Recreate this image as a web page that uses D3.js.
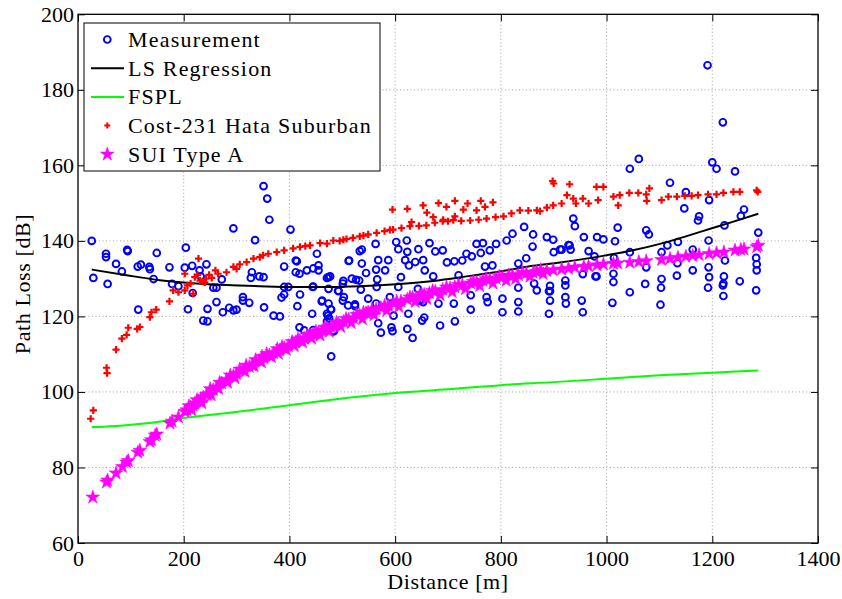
<!DOCTYPE html>
<html>
<head>
<meta charset="utf-8">
<script src="https://cdn.jsdelivr.net/npm/d3@7"></script>
<style>
  body { margin: 0; background: #fff; }
  svg text { font-family: 'Liberation Serif', 'DejaVu Serif', serif; }
</style>
</head>
<body>
<div id="chart"></div>
<script>
// measured path loss [distance m, dB]
var measurement = [
  [26,140.0],[29,130.2],[53,136.6],[53,135.7],[56,128.6],[72,133.9],[83,131.9],[93,137.6],[94,137.3],[113,133.2],
  [119,133.7],[114,121.8],[135,133.1],[136,132.5],[143,129.9],[149,136.8],[173,133.0],[178,128.6],[190,128.0],[204,138.2],
  [208,121.9],[202,132.9],[216,133.4],[217,126.2],[230,132.2],[243,133.8],[232,130.6],[237,118.9],[245,118.7],[245,122.0],
  [256,127.6],[262,127.6],[272,129.8],[262,123.8],[274,121.1],[286,122.3],[294,121.6],[300,121.8],[312,125.1],[312,124.2],
  [324,123.6],[329,131.7],[327,130.2],[335,140.2],[294,143.3],[351,154.5],[358,151.2],[362,145.6],[343,130.6],[351,130.4],
  [352,122.4],[370,120.2],[382,120.0],[390,133.2],[390,127.8],[385,125.0],[398,127.8],[390,125.8],[402,143.0],[414,134.6],
  [412,131.7],[419,131.3],[415,122.7],[420,125.8],[419,117.1],[428,116.3],[433,132.2],[443,120.7],[445,127.9],[452,136.6],
  [455,133.5],[445,116.4],[461,124.0],[471,120.7],[475,119.5],[478,121.9],[474,130.4],[484,116.1],[479,109.4],[492,126.8],
  [501,128.7],[503,125.1],[512,134.7],[524,123.2],[526,129.7],[533,137.3],[445,132.7],[455,132.2],[444,127.8],[462,124.2],
  [471,130.2],[477,130.6],[474,127.3],[474,123.4],[479,121.8],[473,120.2],[471,118.7],[483,116.1],[493,126.7],[502,129.4],
  [501,124.2],[511,122.9],[513,134.8],[518,130.0],[524,122.7],[532,129.5],[537,137.7],[537,134.0],[535,127.1],[545,131.5],
  [549,124.7],[563,139.2],[564,132.4],[566,129.8],[565,127.8],[564,123.4],[568,118.2],[573,115.7],[568,134.9],[581,132.2],
  [587,134.9],[590,125.1],[593,117.1],[595,116.1],[597,120.2],[602,139.7],[606,137.8],[606,127.8],[611,130.4],[622,140.1],
  [623,137.1],[623,116.7],[625,120.7],[619,134.9],[626,133.5],[633,114.3],[638,134.4],[644,137.8],[643,127.3],[646,124.2],
  [653,123.8],[655,119.7],[651,118.9],[653,134.9],[656,132.2],[665,139.4],[672,130.6],[676,137.2],[682,123.4],[685,117.6],
  [690,137.5],[698,134.3],[711,123.4],[712,134.6],[713,118.7],[720,130.9],[727,134.8],[735,136.6],[743,121.8],[743,125.6],
  [745,135.9],[754,139.2],[766,139.4],[762,136.8],[770,133.2],[773,125.1],[775,123.8],[779,137.5],[784,133.5],[791,139.2],
  [803,124.7],[803,121.1],[811,140.1],[822,141.9],[833,134.0],[833,127.6],[833,123.8],[833,121.3],[844,143.7],[848,135.4],
  [861,141.7],[860,138.5],[863,128.7],[868,126.9],[887,141.0],[891,126.7],[893,124.2],[891,120.7],[899,140.3],[900,137.0],
  [915,137.7],[922,125.1],[923,123.4],[928,138.9],[932,137.7],[937,145.9],[940,143.9],[953,124.2],[955,121.1],[957,141.0],
  [966,137.3],[982,141.0],[981,130.6],[994,140.4],[1016,139.9],[1021,143.5],[1044,159.1],[1061,161.7],[1075,142.8],[1080,141.7],
  [1044,137.0],[1044,126.4],[1073,128.6],[1075,133.0],[1011,123.6],[1013,131.3],[1013,129.1],[1014,135.5],[979,130.6],[977,135.9],
  [955,131.2],[922,129.5],[922,128.2],[930,138.8],[912,137.7],[1102,123.1],[1103,127.6],[1104,129.9],[1104,137.0],[1115,138.8],
  [1120,155.4],[1133,130.8],[1134,134.1],[1135,139.7],[1150,152.9],[1147,148.6],[1163,132.2],[1163,137.7],[1175,146.5],[1173,145.4],
  [1193,140.1],[1193,133.0],[1194,130.4],[1192,127.6],[1194,150.8],[1200,160.8],[1208,159.1],[1220,171.4],[1223,144.1],[1224,134.8],
  [1222,130.6],[1221,128.7],[1221,125.4],[1243,158.4],[1252,129.3],[1260,148.3],[1254,146.6],[1283,126.9],[1284,132.2],[1284,133.8],
  [1283,135.5],[1287,142.2],[1191,186.5],[1220,128.2],[893,128.1],[893,126.7],[412,134.8]
];

// least squares fit
var lsRegression = [
  [26,132.4],[92,130.9],[155,129.6],[218,128.8],[281,128.3],[344,128.0],[407,127.8],[471,127.8],[533,128.0],[609,128.6],
  [672,129.4],[735,130.6],[798,131.9],[861,133.4],[912,134.3],[988,135.9],[1050,137.5],[1101,139.2],[1150,141.2],[1196,143.2],
  [1240,145.1],[1287,147.2]
];

var fspl = [
  [26,90.7],[50,90.8],[100,91.3],[168,92.4],[200,93.1],[294,94.6],[400,96.5],[515,98.5],[600,99.7],[700,100.7],
  [800,101.8],[900,102.6],[1000,103.5],[1100,104.4],[1200,105.1],[1287,105.7]
];

var cost231 = [
  [24,92.9],[29,95.1],[54,106.4],[55,105.0],[72,111.2],[83,114.1],[92,115.1],[95,117.0],[112,116.7],[117,117.2],
  [136,119.8],[139,121.1],[148,121.8],[173,124.0],[180,126.9],[190,126.4],[202,126.9],[207,128.2],[202,131.3],[213,128.7],
  [218,126.0],[221,130.4],[228,135.3],[231,129.5],[236,129.2],[242,130.0],[248,131.0],[253,130.2],[265,131.3],[281,131.7],
  [294,133.1],[306,133.8],[319,134.4],[332,135.3],[344,135.7],[360,136.6],[376,137.0],[390,137.5],[407,138.0],[420,138.4],
  [439,138.8],[458,139.4],[471,139.3],[483,140.1],[502,140.3],[508,140.5],[520,140.8],[533,141.2],[549,141.7],[565,142.1],
  [580,142.6],[596,143.0],[612,143.4],[628,143.9],[645,144.0],[659,144.1],[675,144.8],[691,145.6],[710,145.5],[725,145.3],
  [742,145.4],[758,145.6],[773,145.9],[790,146.3],[805,146.5],[820,147.3],[836,148.1],[852,148.0],[868,148.1],[874,147.9],
  [887,148.8],[899,149.4],[915,149.9],[942,149.9],[966,149.9],[984,150.8],[1013,151.7],[1043,152.7],[1060,152.7],[1075,152.3],
  [1104,150.8],[1117,151.7],[1133,151.7],[1148,151.9],[1161,151.9],[1173,152.1],[1192,152.3],[1208,152.3],[1221,152.7],[1240,153.0],
  [1252,153.0],[1284,153.4],[1286,153.0],
  [595,148.3],[623,148.5],[653,149.4],[660,147.5],[682,150.0],[697,149.0],[713,150.6],[729,148.3],[737,149.9],[754,148.1],
  [762,150.6],[770,149.0],[785,150.2],[631,145.0],[672,146.3],[690,145.2],[713,146.5],[898,155.8],[900,155.2],[925,152.1],
  [930,155.0],[937,151.2],[955,151.2],[981,154.3],[994,154.3],[1022,149.4],[1025,152.1],[1076,150.6],[1081,153.9],
  [226,131.0],[240,129.0],[260,132.2],[300,132.6],[350,136.2],[430,138.6],[495,140.0],[540,141.4],[590,142.9],[700,145.2]
];

var suiTypeA = [
  [28,72.1],[54,76.1],[56,76.6],[72,78.5],[84,80.2],[92,81.4],[95,81.8],[113,84.0],[117,84.5],[136,86.8],
  [139,87.3],[146,88.5],[149,88.8],[174,91.7],[178,92.2],[190,93.3],[202,94.8],[206,95.2],[213,96.0],[218,96.4],
  [221,96.9],[228,97.6],[232,98.0],[237,98.6],[243,99.3],[245,99.4],[256,100.6],[262,101.2],[272,102.3],[281,103.3],
  [294,104.3],[300,104.8],[312,105.8],[324,106.7],[329,107.1],[343,108.3],[352,109.0],[362,109.7],[370,110.3],[382,111.1],
  [390,111.7],[398,112.2],[412,113.2],[420,113.7],[428,114.2],[439,114.9],[445,115.2],[455,115.8],[462,116.2],[471,116.8],
  [478,117.2],[484,117.5],[493,118.1],[502,118.6],[512,119.2],[521,119.6],[533,120.3],[545,120.9],[549,121.1],[564,121.9],
  [573,122.3],[587,122.9],[597,123.4],[611,124.0],[623,124.5],[633,125.0],[646,125.5],[655,125.8],[665,126.2],[676,126.6],
  [690,127.1],[704,127.5],[713,127.8],[727,128.3],[743,128.8],[754,129.1],[766,129.5],[779,129.8],[791,130.1],[803,130.4],
  [822,130.8],[833,131.0],[848,131.4],[861,131.6],[868,131.8],[887,132.1],[899,132.3],[915,132.5],[928,132.7],[940,133.0],
  [957,133.2],[966,133.3],[982,133.6],[994,133.8],[1013,134.0],[1021,134.1],[1044,134.3],[1061,134.5],[1075,134.7],[1104,135.0],
  [1120,135.3],[1135,135.6],[1150,135.9],[1163,136.1],[1175,136.3],[1194,136.6],[1208,136.8],[1222,137.0],[1243,137.5],[1254,137.7],
  [1260,137.8],[1284,138.4],[1287,138.8],
  // upper and lower edges of the dense part of the band
  [210,96.3],[225,97.9],[250,100.8],[268,102.5],[288,104.4],[306,106.0],[318,107.0],[336,108.5],[348,109.4],[357,110.1],
  [377,111.4],[386,112.0],[405,113.3],[416,114.0],[434,115.2],[450,116.1],[467,117.1],[489,118.4],[507,119.4],[527,120.5],
  [540,121.1],[556,121.8],[580,122.9],[603,124.0],[628,125.1],[650,126.0],[671,126.8],[697,127.7],[720,128.4],[748,129.2],
  [772,129.9],[797,130.6],[815,130.9],[841,131.6],[875,132.3],
  [215,95.2],[234,97.1],[252,99.2],[266,100.9],[283,102.5],[297,103.7],[316,105.4],[333,106.9],[347,107.9],[366,109.3],
  [379,110.2],[394,111.2],[409,112.2],[425,113.2],[442,114.2],[458,115.0],[475,116.0],[497,117.3],[517,118.3],[538,119.3],
  [560,120.4],[584,121.5],[607,122.6],[638,123.9],[660,124.7],[685,125.7],[708,126.5],[733,127.3],[760,128.1],[785,128.8],
  [810,129.5],[828,130.0],[855,130.6],[880,131.3]
];

var xTicks = [0, 200, 400, 600, 800, 1000, 1200, 1400];
var yTicks = [60, 80, 100, 120, 140, 160, 180, 200];
var legendLabels = ["Measurement", "LS Regression", "FSPL", "Cost-231 Hata Suburban", "SUI Type A"];

var W = 842, H = 599;
var margin = {top: 14.3, right: 24, bottom: 56, left: 78};
var w = W - margin.left - margin.right;
var h = H - margin.top - margin.bottom;
var font = 22;
var serif = "'Liberation Serif', 'DejaVu Serif', serif";

var svg = d3.select("#chart").append("svg")
  .attr("width", W)
  .attr("height", H)
  .style("font-family", serif);

var g = svg.append("g")
  .attr("transform", "translate(" + margin.left + "," + margin.top + ")");

var x = d3.scaleLinear().domain([0, 1400]).range([0, w]);
var y = d3.scaleLinear().domain([60, 200]).range([h, 0]);

// dotted grid
g.append("g").selectAll("line.vg")
  .data(xTicks.slice(1, -1))
  .enter().append("line")
  .attr("x1", d => x(d)).attr("x2", d => x(d))
  .attr("y1", 0).attr("y2", h)
  .attr("stroke", "#8a8a8a").attr("stroke-width", 0.8)
  .attr("stroke-dasharray", "1,2.5");

g.append("g").selectAll("line.hg")
  .data(yTicks.slice(1, -1))
  .enter().append("line")
  .attr("x1", 0).attr("x2", w)
  .attr("y1", d => y(d)).attr("y2", d => y(d))
  .attr("stroke", "#8a8a8a").attr("stroke-width", 0.8)
  .attr("stroke-dasharray", "1,2.5");

// measurement circles
g.append("g").selectAll("circle")
  .data(measurement)
  .enter().append("circle")
  .attr("cx", d => x(d[0]))
  .attr("cy", d => y(d[1]))
  .attr("r", 3.4)
  .attr("fill", "none")
  .attr("stroke", "#0000ff")
  .attr("stroke-width", 1.9);

var line = d3.line()
  .x(d => x(d[0]))
  .y(d => y(d[1]))
  .curve(d3.curveMonotoneX);

g.append("path")
  .datum(lsRegression)
  .attr("d", line)
  .attr("fill", "none")
  .attr("stroke", "#000")
  .attr("stroke-width", 2);

g.append("path")
  .datum(fspl)
  .attr("d", line)
  .attr("fill", "none")
  .attr("stroke", "#00ff00")
  .attr("stroke-width", 2);

// cost-231 plus markers
var plusPath = "M-3.6,0H3.6M0,-3.6V3.6";
g.append("g").selectAll("path")
  .data(cost231)
  .enter().append("path")
  .attr("d", plusPath)
  .attr("transform", d => "translate(" + x(d[0]) + "," + y(d[1]) + ")")
  .attr("stroke", "#ff0000")
  .attr("stroke-width", 2.2)
  .attr("fill", "none");

// SUI stars
var star = d3.symbol().type(d3.symbolStar).size(58);
g.append("g").selectAll("path")
  .data(suiTypeA)
  .enter().append("path")
  .attr("d", star)
  .attr("transform", d => "translate(" + x(d[0]) + "," + y(d[1]) + ")")
  .attr("fill", "#ff00ff")
  .attr("stroke", "#ff00ff")
  .attr("stroke-width", 0.6);

// axes, ticks pointing inward on every side
function styleAxis(sel) {
  sel.select(".domain").remove();
  sel.selectAll(".tick line").attr("stroke", "#000").attr("stroke-width", 1);
  sel.selectAll("text")
    .style("font-family", serif)
    .attr("font-size", font)
    .attr("fill", "#000");
}

g.append("g")
  .attr("transform", "translate(0," + h + ")")
  .call(d3.axisBottom(x).tickValues(xTicks).tickFormat(d3.format("d"))
    .tickSizeInner(-7).tickSizeOuter(0).tickPadding(7))
  .call(styleAxis);

g.append("g")
  .call(d3.axisLeft(y).tickValues(yTicks).tickFormat(d3.format("d"))
    .tickSizeInner(-7).tickSizeOuter(0).tickPadding(4))
  .call(styleAxis);

g.append("g")
  .call(d3.axisTop(x).tickValues(xTicks).tickSizeInner(-7).tickSizeOuter(0).tickFormat(""))
  .call(styleAxis);

g.append("g")
  .attr("transform", "translate(" + w + ",0)")
  .call(d3.axisRight(y).tickValues(yTicks).tickSizeInner(-7).tickSizeOuter(0).tickFormat(""))
  .call(styleAxis);

g.append("rect")
  .attr("width", w).attr("height", h)
  .attr("fill", "none")
  .attr("stroke", "#000")
  .attr("stroke-width", 1.3);

// axis titles
svg.append("text")
  .attr("x", margin.left + w / 2)
  .attr("y", 589)
  .attr("text-anchor", "middle")
  .attr("font-size", font)
  .attr("letter-spacing", 0.6)
  .text("Distance [m]");

svg.append("text")
  .attr("transform", "translate(30,284) rotate(-90)")
  .attr("text-anchor", "middle")
  .attr("font-size", font)
  .attr("letter-spacing", 0.6)
  .text("Path Loss [dB]");

// legend
var legend = svg.append("g");
legend.append("rect")
  .attr("x", 84).attr("y", 23)
  .attr("width", 296).attr("height", 148)
  .attr("fill", "#fff")
  .attr("stroke", "#000")
  .attr("stroke-width", 1);

var rowY = d3.range(legendLabels.length).map(i => 39.5 + i * 28.7);
var mx = 107.3;

legend.append("circle")
  .attr("cx", mx).attr("cy", rowY[0]).attr("r", 3.4)
  .attr("fill", "none").attr("stroke", "#0000ff").attr("stroke-width", 1.9);
legend.append("line")
  .attr("x1", 91).attr("x2", 124).attr("y1", rowY[1]).attr("y2", rowY[1])
  .attr("stroke", "#000").attr("stroke-width", 2);
legend.append("line")
  .attr("x1", 91).attr("x2", 124).attr("y1", rowY[2]).attr("y2", rowY[2])
  .attr("stroke", "#00ff00").attr("stroke-width", 2);
legend.append("path")
  .attr("d", "M-3,0H3M0,-3V3")
  .attr("transform", "translate(" + mx + "," + rowY[3] + ")")
  .attr("stroke", "#ff0000").attr("stroke-width", 2);
legend.append("path")
  .attr("d", star)
  .attr("transform", "translate(" + mx + "," + rowY[4] + ")")
  .attr("fill", "#ff00ff").attr("stroke", "#ff00ff").attr("stroke-width", 0.6);

legend.selectAll("text.lbl")
  .data(legendLabels)
  .enter().append("text")
  .attr("x", 128)
  .attr("y", (d, i) => rowY[i] + 7.5)
  .attr("font-size", font)
  .attr("letter-spacing", 1.2)
  .text(d => d);
</script>
</body>
</html>
